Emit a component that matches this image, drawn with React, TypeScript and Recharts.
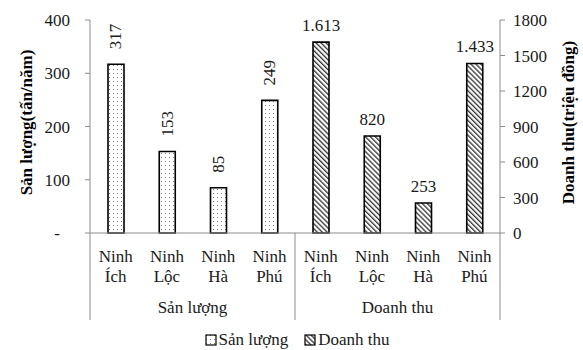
import React from "react";
import { Bar, BarChart, LabelList, Legend, XAxis, YAxis } from "recharts";

const communes = ["Ninh Ích", "Ninh Lộc", "Ninh Hà", "Ninh Phú"];
const groups = ["Sản lượng", "Doanh thu"];
const sanLuong = [317, 153, 85, 249];
const doanhThu = [1613, 820, 253, 1433];
const leftTicks = [0, 100, 200, 300, 400];
const rightTicks = [0, 300, 600, 900, 1200, 1500, 1800];

const rows = [
  ...communes.map((name, i) => ({ key: `sl-${i}`, name, sl: sanLuong[i], dt: null })),
  ...communes.map((name, i) => ({ key: `dt-${i}`, name, sl: null, dt: doanhThu[i] })),
];

const FONT = "'Liberation Serif', 'Times New Roman', serif";
const AXIS = "#8c8c8c";
const TEXT = "#1a1a1a";

const fmtDot = (v: number) => String(v).replace(/\B(?=(\d{3})+(?!\d))/g, ".");

function CategoryTick(props: any) {
  const { x, y, index, width } = props;
  const band = (width || 410) / rows.length;
  const [a, b] = rows[index].name.split(" ");
  const per = communes.length;
  return (
    <g fontFamily={FONT} fontSize={17} fill={TEXT}>
      <text x={x} y={y + 29} textAnchor="middle">{a}</text>
      <text x={x} y={y + 49} textAnchor="middle">{b}</text>
      {index % per === 0 && (
        <line x1={x - band / 2} x2={x - band / 2} y1={y} y2={y + 87} stroke={AXIS} />
      )}
      {index === rows.length - 1 && (
        <line x1={x + band / 2} x2={x + band / 2} y1={y} y2={y + 87} stroke={AXIS} />
      )}
      {index % per === per / 2 - 1 && (
        <text x={x + band / 2} y={y + 80} textAnchor="middle">
          {groups[Math.floor(index / per)]}
        </text>
      )}
    </g>
  );
}

function LeftTick(props: any) {
  const { x, y, payload } = props;
  const zero = payload.value === 0;
  return (
    <text x={zero ? x - 10 : x} y={y} dy={6} textAnchor="end" fontFamily={FONT} fontSize={17} fill={TEXT}>
      {zero ? "-" : payload.value}
    </text>
  );
}

function RightTick(props: any) {
  const { x, y, payload } = props;
  return (
    <text x={x} y={y} dy={6} textAnchor="start" fontFamily={FONT} fontSize={17} fill={TEXT}>
      {payload.value}
    </text>
  );
}

function AxisTitle({ viewBox, text, dx }: any) {
  const cx = viewBox.x + dx;
  const cy = viewBox.y + viewBox.height / 2 - 4;
  return (
    <text
      x={cx}
      y={cy}
      transform={`rotate(-90, ${cx}, ${cy})`}
      textAnchor="middle"
      dominantBaseline="central"
      fontFamily={FONT}
      fontSize={17}
      fontWeight="bold"
      fill="#000"
    >
      {text}
    </text>
  );
}

function SlLabel(props: any) {
  const { x, y, width, value } = props;
  if (value == null) return null;
  const cx = x + width / 2;
  const cy = y - 15;
  return (
    <text
      x={cx}
      y={cy}
      transform={`rotate(-90, ${cx}, ${cy})`}
      textAnchor="start"
      dominantBaseline="central"
      fontFamily={FONT}
      fontSize={17}
      fill={TEXT}
    >
      {value}
    </text>
  );
}

function DtLabel(props: any) {
  const { x, y, width, value } = props;
  if (value == null) return null;
  return (
    <text x={x + width / 2} y={y - 11} textAnchor="middle" fontFamily={FONT} fontSize={17} fill={TEXT}>
      {fmtDot(value)}
    </text>
  );
}

function Patterns({ prefix }: { prefix: string }) {
  return (
    <defs>
      <pattern id={`${prefix}dots`} width={4} height={4} patternUnits="userSpaceOnUse">
        <rect width={4} height={4} fill="#fff" />
        <rect x={1} y={1} width={1} height={1} fill="#777" />
      </pattern>
      <pattern
        id={`${prefix}hatch`}
        width={3.5}
        height={3.5}
        patternUnits="userSpaceOnUse"
        patternTransform="rotate(-45)"
      >
        <rect width={3.5} height={3.5} fill="#fff" />
        <rect width={1.3} height={3.5} fill="#333" />
      </pattern>
    </defs>
  );
}

function LegendContent() {
  const items = [
    { label: groups[0], fill: "url(#lgdots)" },
    { label: groups[1], fill: "url(#lghatch)" },
  ];
  return (
    <div
      style={{
        display: "flex",
        justifyContent: "center",
        paddingLeft: 34,
        gap: 16,
        fontFamily: FONT,
        fontSize: 17,
        color: TEXT,
        lineHeight: "20px",
      }}
    >
      {items.map((it, i) => (
        <span key={it.label} style={{ display: "flex", alignItems: "center" }}>
          <svg width={12} height={12} style={{ marginRight: 2 }}>
            {i === 0 && <Patterns prefix="lg" />}
            <rect x={1} y={1} width={10} height={10} fill={it.fill} stroke="#000" strokeWidth={1.2} />
          </svg>
          {it.label}
        </span>
      ))}
    </div>
  );
}

export default function App() {
  return (
    <div style={{ position: "absolute", left: 0, top: 0, background: "#fff" }}>
      <BarChart
        width={583}
        height={350}
        data={rows}
        margin={{ top: 20, right: 23, left: 0, bottom: 0 }}
      >
        <Patterns prefix="c" />
        <XAxis
          xAxisId="a"
          dataKey="key"
          interval={0}
          tickLine={false}
          tickSize={0}
          tickMargin={0}
          height={97}
          axisLine={{ stroke: AXIS }}
          tick={<CategoryTick />}
        />
        <XAxis xAxisId="b" dataKey="key" hide />
        <YAxis
          yAxisId="left"
          domain={[0, 400]}
          ticks={leftTicks}
          width={90}
          tickSize={5}
          tickMargin={15}
          axisLine={{ stroke: AXIS }}
          tickLine={{ stroke: AXIS }}
          tick={<LeftTick />}
          label={(p: any) => <AxisTitle viewBox={p.viewBox} text="Sản lượng(tấn/năm)" dx={26} />}
        />
        <YAxis
          yAxisId="right"
          orientation="right"
          domain={[0, 1800]}
          ticks={rightTicks}
          width={60}
          tickSize={5}
          tickMargin={8}
          axisLine={{ stroke: AXIS }}
          tickLine={{ stroke: AXIS }}
          tick={<RightTick />}
          label={(p: any) => <AxisTitle viewBox={p.viewBox} text="Doanh thu(triệu đồng)" dx={68} />}
        />
        <Bar
          dataKey="sl"
          xAxisId="a"
          yAxisId="left"
          barSize={16}
          fill="url(#cdots)"
          stroke="#000"
          strokeWidth={1.6}
          isAnimationActive={false}
        >
          <LabelList dataKey="sl" content={<SlLabel />} />
        </Bar>
        <Bar
          dataKey="dt"
          xAxisId="b"
          yAxisId="right"
          barSize={16}
          fill="url(#chatch)"
          stroke="#000"
          strokeWidth={1.6}
          isAnimationActive={false}
        >
          <LabelList dataKey="dt" content={<DtLabel />} />
        </Bar>
        <Legend verticalAlign="bottom" content={<LegendContent />} wrapperStyle={{ height: 20 }} />
      </BarChart>
    </div>
  );
}
